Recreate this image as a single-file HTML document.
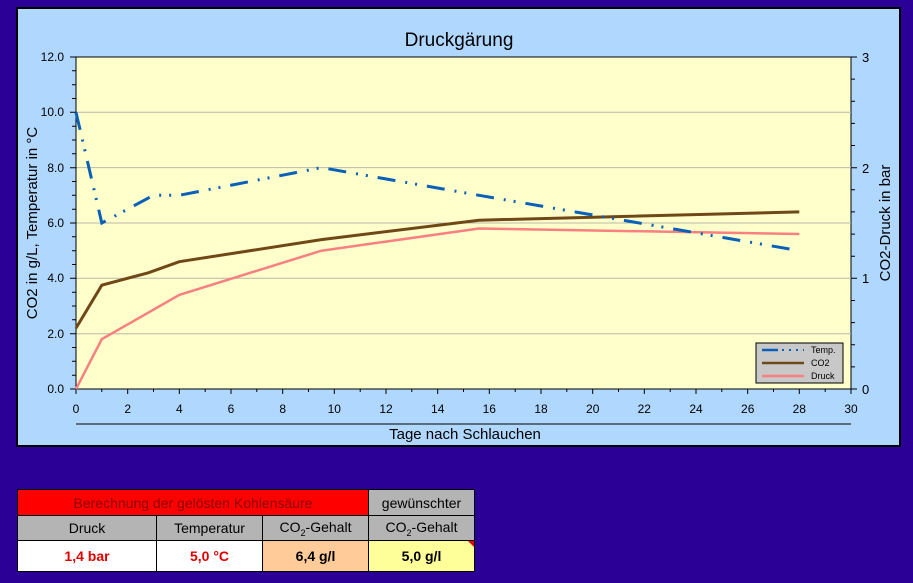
<!DOCTYPE html>
<html><head><meta charset="utf-8"><style>
body{margin:0;background:#2a0096;width:913px;height:583px;overflow:hidden;font-family:"Liberation Sans",sans-serif}
table{position:absolute;left:17px;top:489px;border-collapse:collapse;font-size:14px}
td{border:1px solid #000;text-align:center;padding:0;height:24px}
</style></head><body>
<svg width="913" height="583" style="position:absolute;left:0;top:0" font-family="Liberation Sans, sans-serif">
<rect x="17" y="8" width="883" height="438" fill="#b0d8ff" stroke="#000" stroke-width="2"/>
<text x="459" y="46" font-size="19" text-anchor="middle" fill="#000">Druckgärung</text>
<rect x="76" y="57" width="775" height="332" fill="#ffffcc" stroke="#000" stroke-width="1"/>
<g stroke="#b8b8a8" stroke-width="1">
<line x1="76" x2="851" y1="333.7" y2="333.7"/><line x1="76" x2="851" y1="278.3" y2="278.3"/><line x1="76" x2="851" y1="223" y2="223"/><line x1="76" x2="851" y1="167.6" y2="167.6"/><line x1="76" x2="851" y1="112.3" y2="112.3"/>
</g>
<line x1="76" x2="76" y1="57" y2="389" stroke="#000"/>
<line x1="76" x2="851" y1="389" y2="389" stroke="#000"/>
<line x1="76" x2="851" y1="424" y2="424" stroke="#000"/>
<path stroke="#000" fill="none" d="
M76 389v5M101.8 389v3M127.7 389v5M153.5 389v3M179.3 389v5M205.2 389v3M231 389v5M256.8 389v3M282.7 389v5M308.5 389v3M334.3 389v5M360.2 389v3M386 389v5M411.8 389v3M437.7 389v5M463.5 389v3M489.3 389v5M515.2 389v3M541 389v5M566.8 389v3M592.7 389v5M618.5 389v3M644.3 389v5M670.2 389v3M696 389v5M721.8 389v3M747.7 389v5M773.5 389v3M799.3 389v5M825.2 389v3M851 389v5
M70 389h6M72 375.2h4M72 361.3h4M72 347.5h4M70 333.7h6M72 319.8h4M72 306h4M72 292.2h4M70 278.3h6M72 264.5h4M72 250.7h4M72 236.8h4M70 223h6M72 209.2h4M72 195.3h4M72 181.5h4M70 167.7h6M72 153.8h4M72 140h4M72 126.2h4M70 112.3h6M72 98.5h4M72 84.7h4M72 70.8h4M70 57h6
M851 389h6M851 366.9h4M851 344.7h4M851 322.6h4M851 300.5h4M851 278.3h6M851 256.2h4M851 234.1h4M851 211.9h4M851 189.8h4M851 167.7h6M851 145.5h4M851 123.4h4M851 101.3h4M851 79.1h4M851 57h6"/>
<g font-size="12" fill="#000" text-anchor="end">
<text x="64" y="393">0.0</text><text x="64" y="338">2.0</text><text x="64" y="282">4.0</text><text x="64" y="227">6.0</text><text x="64" y="172">8.0</text><text x="64" y="116">10.0</text><text x="64" y="61">12.0</text>
</g>
<g font-size="13" fill="#000">
<text x="862" y="62">3</text><text x="862" y="173">2</text><text x="862" y="283">1</text><text x="862" y="394">0</text>
</g>
<g font-size="12" fill="#000" text-anchor="middle">
<text x="76" y="413">0</text><text x="127.7" y="413">2</text><text x="179.3" y="413">4</text><text x="231" y="413">6</text><text x="282.7" y="413">8</text><text x="334.3" y="413">10</text><text x="386" y="413">12</text><text x="437.7" y="413">14</text><text x="489.3" y="413">16</text><text x="541" y="413">18</text><text x="592.7" y="413">20</text><text x="644.3" y="413">22</text><text x="696" y="413">24</text><text x="747.7" y="413">26</text><text x="799.3" y="413">28</text><text x="851" y="413">30</text>
</g>
<text x="465" y="439" font-size="15" text-anchor="middle">Tage nach Schlauchen</text>
<text transform="translate(37,223) rotate(-90)" font-size="15" text-anchor="middle">CO2 in g/L, Temperatur in °C</text>
<text transform="translate(890,223) rotate(-90)" font-size="15" text-anchor="middle">CO2-Druck in bar</text>
<polyline fill="none" stroke="#f88080" stroke-width="2.5" points="76,389 101.8,339.2 179.3,294.9 321.4,250.7 479,228.5 799.3,234"/>
<polyline fill="none" stroke="#704818" stroke-width="3" points="76,328.1 101.8,285.2 148.3,272.8 179.3,261.7 321.4,239.6 479,220.2 799.3,211.9"/>
<polyline fill="none" stroke="#0860b8" stroke-width="3" stroke-dasharray="18,10,2,8,2,10" points="76,112.3 101.8,223 153.5,195.3 179.3,195.3 321.4,167.6 479,195.3 799.3,250.7"/>
<rect x="756" y="343" width="87" height="40" fill="#c8c8c8" stroke="#000"/>
<line x1="762" x2="778" y1="350" y2="350" stroke="#0860b8" stroke-width="2.5"/><line x1="782" x2="804" y1="350" y2="350" stroke="#0860b8" stroke-width="2" stroke-dasharray="2,5"/>
<line x1="762" x2="804" y1="363" y2="363" stroke="#704818" stroke-width="2.5"/>
<line x1="762" x2="804" y1="376" y2="376" stroke="#f88080" stroke-width="2.5"/>
<g font-size="9" fill="#000"><text x="811" y="353">Temp.</text><text x="811" y="366">CO2</text><text x="811" y="379">Druck</text></g>
</svg>
<table>
<tr><td colspan="3" style="background:#ff0000;color:#8b0000;width:350px;height:25px">Berechnung der gelösten Kohlensäure</td><td style="background:#b4b4b4;width:105px">gewünschter</td></tr>
<tr><td style="background:#b4b4b4;width:138px">Druck</td><td style="background:#b4b4b4;width:105px">Temperatur</td><td style="background:#b4b4b4;width:105px">CO<sub style="font-size:9px">2</sub>-Gehalt</td><td style="background:#b4b4b4;border-top:none">CO<sub style="font-size:9px">2</sub>-Gehalt</td></tr>
<tr><td style="background:#fff;color:#e00000;font-weight:bold;height:30px">1,4 bar</td><td style="background:#fff;color:#e00000;font-weight:bold">5,0 °C</td><td style="background:#ffcc99;font-weight:bold">6,4 g/l</td><td style="background:#ffff99;font-weight:bold;position:relative">5,0 g/l<span style="position:absolute;right:0;top:0;width:0;height:0;border-left:6px solid transparent;border-top:6px solid #e00000"></span></td></tr>
</table>
</body></html>
